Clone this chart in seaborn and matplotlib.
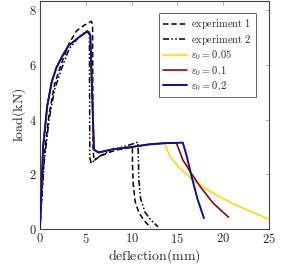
import numpy as np
import pandas as pd
import seaborn as sns
import matplotlib.pyplot as plt

# series (deflection in mm, load in kN)
exp1_x = [0, 0.45, 1.0, 1.6, 2.4, 3.2, 4.0, 4.8, 5.6, 5.75, 5.8, 5.9, 6.5, 7.5, 8.5, 9.5, 10.1, 10.1, 10.2, 10.4, 10.8, 11.4, 12.1]
exp1_y = [0, 2.6, 4.2, 5.3, 6.1, 6.8, 7.25, 7.45, 7.6, 7.5, 3.0, 2.5, 2.65, 2.8, 2.9, 2.95, 3.0, 2.4, 1.6, 1.0, 0.6, 0.3, 0.05]

exp2_x = [0, 0.45, 1.0, 1.6, 2.4, 3.2, 4.2, 5.1, 5.4, 5.45, 5.6, 6.2, 7.0, 8.0, 9.0, 10.0, 10.7, 10.75, 10.8, 11.0, 11.5, 12.2, 12.9]
exp2_y = [0, 2.4, 4.0, 5.1, 5.9, 6.6, 7.0, 7.25, 7.2, 2.6, 2.4, 2.6, 2.75, 2.9, 3.0, 3.1, 3.18, 2.6, 1.8, 1.1, 0.6, 0.3, 0.08]

base_x = [0, 0.35, 0.8, 1.3, 1.8, 2.4, 3.1, 4.2, 5.15, 5.5, 5.9, 6.4, 8.0, 10.0, 12.0, 13.6]
base_y = [0, 3.0, 4.5, 5.4, 5.9, 6.3, 6.7, 7.0, 7.23, 7.1, 2.9, 2.8, 2.92, 3.0, 3.1, 3.14]

e005_x = base_x + [14.2, 15.3, 16.7, 18.9, 21.1, 25.0]
e005_y = base_y + [2.65, 2.22, 1.79, 1.31, 0.92, 0.36]

e01_x = base_x + [14.9, 15.6, 16.5, 17.5, 18.9, 20.6]
e01_y = base_y + [3.15, 2.53, 2.05, 1.55, 0.95, 0.43]

e02_x = base_x + [14.9, 15.6, 16.0, 16.5, 17.2, 17.9]
e02_y = base_y + [3.15, 3.16, 2.7, 2.0, 1.1, 0.4]

labels = ['experiment 1', 'experiment 2', r'$\varepsilon_0 = 0.05$', r'$\varepsilon_0 = 0.1$', r'$\varepsilon_0 = 0.2$']
xticks = [0, 5, 10, 15, 20, 25]
yticks = [0, 2, 4, 6, 8]

sns.set_style('white')
plt.rcParams['mathtext.fontset'] = 'cm'
plt.rcParams['font.family'] = ['DejaVu Serif']

fig = plt.figure(figsize=(2.81, 2.71), dpi=100)
ax = fig.add_axes([0.142, 0.155, 0.815, 0.841])

series = [
    (exp1_x, exp1_y, 'black', (0, (3.5, 2)), 1.1),
    (exp2_x, exp2_y, 'black', (0, (4, 1.5, 1, 1.5, 1, 1.5)), 1.1),
    (e005_x, e005_y, '#ffd700', '-', 1.15),
    (e01_x, e01_y, '#8b0000', '-', 1.15),
    (e02_x, e02_y, '#10108f', '-', 1.4),
]
for i, ((x, y, c, ls, lw), lab) in enumerate(zip(series, labels)):
    df = pd.DataFrame({'x': x, 'y': y})
    sns.lineplot(data=df, x='x', y='y', sort=False, estimator=None, ax=ax,
                 color=c, linestyle=ls, linewidth=lw, label=lab, zorder=2 + i)

ax.set_xlim(0, 25)
ax.set_ylim(0, 8.34)
ax.set_xticks(xticks)
ax.set_xticklabels(['$%d$' % t for t in xticks])
ax.set_yticks(yticks)
ax.set_yticklabels(['$%d$' % t for t in yticks])
ax.tick_params(direction='in', length=3, width=0.5, color='#999999',
               top=True, right=True, labelsize=9, pad=2)
for s in ax.spines.values():
    s.set_color('#444444')
    s.set_linewidth(0.8)
ax.set_xlabel(r'$\mathrm{deflection(mm)}$', fontsize=10, labelpad=1)
ax.set_ylabel(r'$\mathrm{load(kN)}$', fontsize=10, labelpad=1)

leg = ax.legend(loc='upper right', fontsize=7.5, handlelength=2.3,
                handletextpad=0.4, labelspacing=0.15, borderpad=0.4,
                fancybox=False, edgecolor='#666666', framealpha=1,
                bbox_to_anchor=(0.965, 0.97))
leg.get_frame().set_linewidth(0.7)
leg.set_zorder(10)
for t in leg.get_texts():
    s = t.get_text()
    if not s.startswith('$'):
        t.set_text(r'$\mathrm{' + s.replace(' ', r'\ ') + '}$')

fig.savefig('out.png', dpi=100)
